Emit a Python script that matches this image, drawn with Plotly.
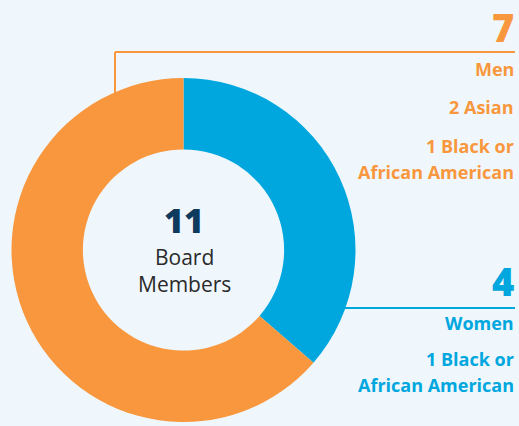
import plotly.graph_objects as go

W, H = 519, 426

categories = ["Women", "Men"]
counts = [4, 7]
total_label = "Board Members"
men_details = ["2 Asian", "1 Black or", "African American"]
women_details = ["1 Black or", "African American"]

BLUE = "#00A7DF"
ORANGE = "#F8973D"
NAVY = "#0E3A5E"
BG = "#EFF7FC"
FONT = "Open Sans"

def px(x):
    return x / W

def py(y):
    return 1 - y / H

fig = go.Figure()
fig.add_trace(go.Pie(
    labels=categories,
    values=counts,
    hole=0.585,
    sort=False,
    direction="clockwise",
    rotation=0,
    marker=dict(colors=[BLUE, ORANGE], line=dict(width=0)),
    textinfo="none",
    hoverinfo="label+value",
    showlegend=False,
    domain=dict(x=[px(11.5), px(355.5)], y=[py(422), py(78)]),
))

shapes = [
    dict(type="line", xref="paper", yref="paper", x0=px(115), x1=px(515), y0=py(52), y1=py(52),
         line=dict(color=ORANGE, width=2), layer="below"),
    dict(type="line", xref="paper", yref="paper", x0=px(115), x1=px(115), y0=py(52), y1=py(110),
         line=dict(color=ORANGE, width=2), layer="below"),
    dict(type="line", xref="paper", yref="paper", x0=px(300), x1=px(515), y0=py(308), y1=py(308),
         line=dict(color=BLUE, width=2), layer="below"),
]

annotations = []

def ann(text, x, y, size, color, weight="bold", xanchor="right", family=FONT):
    annotations.append(dict(
        text=text,
        x=px(x), y=py(y), xref="paper", yref="paper",
        xanchor=xanchor, yanchor="middle", showarrow=False,
        font=dict(family=family, size=size, color=color, weight=weight),
    ))

RX = 516
ann(str(counts[1]), RX, 27, 38, ORANGE, weight=800)
ann(categories[1], RX, 69, 18, ORANGE)
for t, y in zip(men_details, [107, 146, 172]):
    ann(t, RX, y, 18, ORANGE)
ann(str(counts[0]), RX, 281, 38, BLUE, weight=800)
ann(categories[0], RX, 323, 18, BLUE)
for t, y in zip(women_details, [359, 385]):
    ann(t, RX, y, 18, BLUE)

ann(str(sum(counts)), 184, 220, 34, NAVY, weight=800, xanchor="center")
ann("Board", 184, 257, 21, "#2A2A2A", weight="normal", xanchor="center")
ann("Members", 184, 284, 21, "#2A2A2A", weight="normal", xanchor="center")

fig.update_layout(
    width=W, height=H,
    margin=dict(l=0, r=0, t=0, b=0),
    paper_bgcolor=BG, plot_bgcolor=BG,
    shapes=shapes, annotations=annotations,
)

fig.write_html(
    "out.html",
    config={"displayModeBar": False},
    post_script="document.body.style.margin='0';document.body.style.background='%s';" % BG,
)
